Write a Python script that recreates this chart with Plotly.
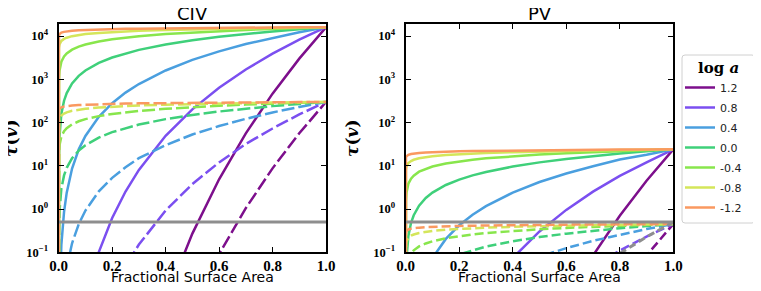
import plotly.graph_objects as go

# ---------------- data ----------------
X = [0, 0.0001, 0.0003, 0.001, 0.003, 0.01, 0.02, 0.03, 0.05, 0.075, 0.1,
     0.15, 0.2, 0.25, 0.3, 0.4, 0.5, 0.6, 0.7, 0.8, 0.9, 1.0]

LOG_A = ["1.2", "0.8", "0.4", "0.0", "-0.4", "-0.8", "-1.2"]
COLORS = ["#7d0f8c", "#7b4ff0", "#4a9fdf", "#3fd07a", "#88e64c", "#d4e65a", "#fa9960"]

# CIV, solid
CIV_S_12 = [None]*15 + [0.00789, 0.271, 4.88, 56.1, 466, 3010, 16000]
CIV_S_08 = [None]*10 + [0.00784, 0.101, 0.622, 2.54, 8.03, 49.4, 202, 637, 1690, 3910, 8230, 16000]
CIV_S_04 = [None]*4 + [0.00736, 0.151, 0.864, 2.39, 8.63, 24, 49, 136, 281, 492, 778, 1600, 2810, 4430, 6530, 9130, 12300, 16000]
CIV_S_00 = [1e-12, 1.6, 4.8, 16, 48, 160, 320, 480, 800, 1200, 1600, 2400, 3200, 4000, 4800, 6400, 8000, 9600, 11200, 12800, 14400, 16000]
CIV_S_m04 = [1e-12, 409, 633, 1020, 1580, 2560, 3370, 3960, 4850, 5710, 6400, 7520, 8430, 9210, 9910, 11100, 12100, 13100, 13900, 14600, 15300, 16000]
CIV_S_m08 = [1e-12, 3730, 4410, 5370, 6370, 7720, 8600, 9170, 9960, 10600, 11100, 11800, 12400, 12800, 13200, 13800, 14300, 14800, 15100, 15400, 15800, 16000]
CIV_S_m12 = [1e-12, 8950, 9590, 10300, 11100, 12000, 12500, 12800, 13200, 13600, 13800, 14200, 14500, 14700, 14800, 15100, 15300, 15500, 15600, 15800, 15900, 16000]

# CIV, dashed
CIV_D_12 = [None]*16 + [0.00508, 0.0914, 1.05, 8.73, 56.5, 300]
CIV_D_08 = [None]*12 + [0.0117, 0.0477, 0.151, 0.925, 3.78, 12, 32, 73, 154, 300]
CIV_D_04 = [None]*6 + [0.0162, 0.0449, 0.162, 0.448, 0.923, 2.56, 5.26, 9.22, 15, 30, 53, 83, 122, 171, 230, 300]
CIV_D_00 = [1e-12, 0.03, 0.09, 0.3, 0.9, 3, 6, 9, 15, 22.5, 30, 45, 60, 75, 90, 120, 150, 180, 210, 240, 270, 300]
CIV_D_m04 = [1e-12, 7.67, 12, 19, 30, 48, 63, 74, 91, 107, 120, 141, 158, 173, 186, 208, 228, 245, 260, 274, 288, 300]
CIV_D_m08 = [1e-12, 70, 83, 100, 119, 145, 161, 172, 187, 199, 208, 222, 232, 241, 248, 259, 269, 277, 284, 290, 295, 300]
CIV_D_m12 = [1e-12, 168, 180, 194, 208, 224, 234, 240, 248, 255, 259, 266, 271, 275, 278, 283, 287, 290, 293, 296, 298, 300]

# PV, solid
PV_S_12 = [None]*17 + [0.00731, 0.0841, 0.698, 4.52, 24]
PV_S_08 = [None]*14 + [0.0121, 0.074, 0.303, 0.956, 2.53, 5.87, 12, 24]
PV_S_04 = [None]*8 + [0.0129, 0.0359, 0.0738, 0.204, 0.421, 0.738, 1.17, 2.4, 4.21, 6.65, 9.8, 14, 18, 24]
PV_S_00 = [None]*3 + [0.024, 0.072, 0.24, 0.48, 0.72, 1.2, 1.8, 2.4, 3.6, 4.8, 6, 7.2, 9.6, 12, 14.4, 16.8, 19.2, 21.6, 24]
PV_S_m04 = [1e-12, 0.614, 0.951, 1.54, 2.37, 3.84, 5.06, 5.92, 7.31, 8.53, 9.6, 11.3, 12.6, 13.8, 14.9, 16.6, 18.2, 19.6, 20.8, 22.0, 23.0, 24]
PV_S_m08 = [1e-12, 5.6, 6.61, 8.05, 9.55, 11.6, 12.9, 13.8, 14.9, 15.9, 16.6, 17.8, 18.6, 19.3, 19.8, 20.7, 21.5, 22.1, 22.7, 23.1, 23.6, 24]
PV_S_m12 = [1e-12, 13.4, 14.4, 15.5, 16.6, 18.0, 18.8, 19.3, 19.8, 20.4, 20.8, 21.3, 21.7, 22.0, 22.2, 22.7, 23.0, 23.3, 23.5, 23.7, 23.8, 24]

# PV, dashed
PV_D_12 = [None]*19 + [0.0131, 0.0847, 0.45]
PV_D_08 = [None]*17 + [0.0179, 0.0474, 0.11, 0.231, 0.45]
PV_D_04 = [None]*14 + [0.0219, 0.045, 0.0789, 0.125, 0.184, 0.257, 0.345, 0.45]
PV_D_00 = [None]*8 + [0.0225, 0.0338, 0.045, 0.0675, 0.09, 0.1125, 0.135, 0.18, 0.225, 0.27, 0.315, 0.36, 0.405, 0.45]
PV_D_m04 = [None]*3 + [0.0288, 0.0445, 0.0719, 0.0948, 0.111, 0.137, 0.16, 0.18, 0.211, 0.237, 0.259, 0.279, 0.312, 0.341, 0.367, 0.39, 0.412, 0.432, 0.45]
PV_D_m08 = [1e-12, 0.105, 0.124, 0.151, 0.179, 0.217, 0.242, 0.258, 0.28, 0.298, 0.312, 0.333, 0.349, 0.361, 0.372, 0.389, 0.403, 0.415, 0.425, 0.434, 0.443, 0.45]
PV_D_m12 = [1e-12, 0.252, 0.27, 0.291, 0.312, 0.337, 0.352, 0.361, 0.372, 0.382, 0.389, 0.399, 0.407, 0.412, 0.417, 0.425, 0.431, 0.436, 0.44, 0.444, 0.447, 0.45]

# grey extra dashed curve (PV panel)
PV_GREY = [None]*18 + [0.0345, 0.0938, 0.227, 0.5]

# grey threshold level
THRESH_X = [0, 1]
THRESH_Y = [0.5, 0.5]

CIV_SOLID = [CIV_S_12, CIV_S_08, CIV_S_04, CIV_S_00, CIV_S_m04, CIV_S_m08, CIV_S_m12]
CIV_DASH = [CIV_D_12, CIV_D_08, CIV_D_04, CIV_D_00, CIV_D_m04, CIV_D_m08, CIV_D_m12]
PV_SOLID = [PV_S_12, PV_S_08, PV_S_04, PV_S_00, PV_S_m04, PV_S_m08, PV_S_m12]
PV_DASH = [PV_D_12, PV_D_08, PV_D_04, PV_D_00, PV_D_m04, PV_D_m08, PV_D_m12]

XTICKS = [0, 0.2, 0.4, 0.6, 0.8, 1.0]
XTICKTEXT = ["0.0", "0.2", "0.4", "0.6", "0.8", "1.0"]
YTICKS = [0.1, 1, 10, 100, 1000, 10000]
YTICKTEXT = ["10<sup>\u22121</sup>", "10<sup>0</sup>", "10<sup>1</sup>",
             "10<sup>2</sup>", "10<sup>3</sup>", "10<sup>4</sup>"]

# ---------------- figure ----------------
W, H = 761, 291
OFF = 8.0          # page body margin of the browser page


def fx(p):
    return (p - OFF) / W


def fy(p):
    return 1 - (p - OFF) / H


LW = 2.5
fig = go.Figure()

for i in range(7):
    fig.add_trace(go.Scatter(x=X, y=CIV_SOLID[i], mode="lines", name=LOG_A[i],
                             line=dict(color=COLORS[i], width=LW),
                             xaxis="x", yaxis="y", showlegend=True,
                             legendgroup="g%d" % i, legendrank=i))
for i in range(7):
    fig.add_trace(go.Scatter(x=X, y=CIV_DASH[i], mode="lines", name=LOG_A[i],
                             line=dict(color=COLORS[i], width=LW, dash="13px,4px"),
                             xaxis="x", yaxis="y", showlegend=False))
fig.add_trace(go.Scatter(x=THRESH_X, y=THRESH_Y, mode="lines",
                         line=dict(color="#8e8e8e", width=3),
                         xaxis="x", yaxis="y", showlegend=False))

for i in range(7):
    fig.add_trace(go.Scatter(x=X, y=PV_SOLID[i], mode="lines", name=LOG_A[i],
                             line=dict(color=COLORS[i], width=LW),
                             xaxis="x2", yaxis="y2", showlegend=False))
for i in range(7):
    fig.add_trace(go.Scatter(x=X, y=PV_DASH[i], mode="lines", name=LOG_A[i],
                             line=dict(color=COLORS[i], width=LW, dash="9px,4px"),
                             xaxis="x2", yaxis="y2", showlegend=False))
fig.add_trace(go.Scatter(x=X, y=PV_GREY, mode="lines",
                         line=dict(color="#8e8e8e", width=3, dash="7px,4px"),
                         xaxis="x2", yaxis="y2", showlegend=False))
fig.add_trace(go.Scatter(x=THRESH_X, y=THRESH_Y, mode="lines",
                         line=dict(color="#8e8e8e", width=3),
                         xaxis="x2", yaxis="y2", showlegend=False))

xtickfont = dict(family="Liberation Serif", size=15, color="black", weight="bold")
ytickfont = dict(family="Liberation Serif", size=12.5, color="black", weight="bold")
xcommon = dict(range=[0, 1], tickvals=XTICKS, ticktext=XTICKTEXT, ticks="inside",
               ticklen=5, tickwidth=1.3, tickcolor="black", showline=True,
               linewidth=2, linecolor="black", mirror="ticks", showgrid=False,
               zeroline=False, tickfont=xtickfont, ticklabelstandoff=-1,
               automargin=False)
ycommon = dict(type="log", range=[-1, 4.279], tickvals=YTICKS, ticktext=YTICKTEXT,
               ticks="inside", ticklen=5, tickwidth=1.3, tickcolor="black",
               showline=True, linewidth=2, linecolor="black", mirror="ticks",
               showgrid=False, zeroline=False, tickfont=ytickfont,
               ticklabelstandoff=6, domain=[fy(252.3), fy(24)],
               automargin=False)

L0, L1 = 58.7, 326.0
R0, R1 = 405.7, 673.3

# legend frame (rounded rectangle) in paper coordinates
BX0, BX1, BY0, BY1, RAD = 682.0, 755.0, 55.0, 223.0, 3.0
frame_path = ("M {a},{b} L {c},{b} Q {d},{b} {d},{e} L {d},{f} Q {d},{g} {c},{g} "
              "L {a},{g} Q {h},{g} {h},{f} L {h},{e} Q {h},{b} {a},{b} Z").format(
    a=fx(BX0 + RAD), b=fy(BY0), c=fx(BX1 - RAD), d=fx(BX1), e=fy(BY0 + RAD),
    f=fy(BY1 - RAD), g=fy(BY1), h=fx(BX0))

fig.update_layout(
    width=W, height=H,
    margin=dict(l=0, r=0, t=0, b=0, autoexpand=False),
    paper_bgcolor="white", plot_bgcolor="white",
    xaxis=dict(xcommon, domain=[fx(L0), fx(L1)], anchor="y"),
    yaxis=dict(ycommon, anchor="x"),
    xaxis2=dict(xcommon, domain=[fx(R0), fx(R1)], anchor="y2"),
    yaxis2=dict(ycommon, anchor="x2"),
    showlegend=True,
    legend=dict(x=fx(680), y=fy(73), xanchor="left", yanchor="top",
                bgcolor="rgba(0,0,0,0)", borderwidth=0,
                font=dict(family="DejaVu Sans", size=11, color="#222222"),
                traceorder="grouped", itemwidth=30, tracegroupgap=1),
    shapes=[dict(type="path", xref="paper", yref="paper", path=frame_path,
                 line=dict(color="#d0d0d0", width=1), fillcolor="white",
                 layer="below")],
)

ann = []
for cx, title in [((L0 + L1) / 2, "CIV"), ((R0 + R1) / 2, "PV")]:
    ann.append(dict(text=title, x=fx(cx), y=fy(13.5), xref="paper", yref="paper",
                    showarrow=False, xanchor="center", yanchor="middle",
                    font=dict(family="DejaVu Sans", size=18, color="black")))
    ann.append(dict(text="Fractional Surface Area", x=fx(cx), y=fy(276.5),
                    xref="paper", yref="paper", showarrow=False,
                    xanchor="center", yanchor="middle",
                    font=dict(family="DejaVu Sans", size=14, color="black")))
for cx in [11, 352]:
    ann.append(dict(text="<b><i>\u03c4</i>(<i>v</i>)</b>", x=fx(cx), y=fy(139),
                    xref="paper", yref="paper", showarrow=False, textangle=-90,
                    xanchor="center", yanchor="middle",
                    font=dict(family="DejaVu Serif", size=17, color="black")))
ann.append(dict(text="<b>log <i>a</i></b>", x=fx((BX0 + BX1) / 2), y=fy(68),
                xref="paper", yref="paper", showarrow=False,
                xanchor="center", yanchor="middle",
                font=dict(family="DejaVu Serif", size=15, color="black")))
fig.update_layout(annotations=ann)

fig.write_html("out.html")
